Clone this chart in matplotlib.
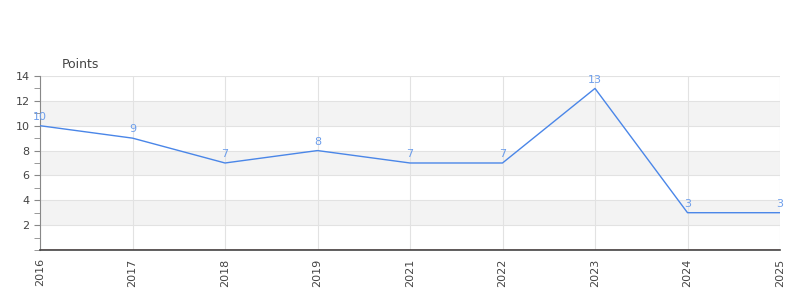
import numpy as np
import matplotlib.pyplot as plt
from matplotlib.ticker import MultipleLocator

years = ['2016', '2017', '2018', '2019', '2021', '2022', '2023', '2024', '2025']
points = [10, 9, 7, 8, 7, 7, 13, 3, 3]
band_ranges = [(2, 4), (6, 8), (10, 12)]
ytick_values = [2, 4, 6, 8, 10, 12, 14]

LINE = '#4a86e8'
LABEL = '#6d9eeb'
GRID = '#e2e2e2'
TEXT = '#444444'

fig = plt.figure(figsize=(8, 3), dpi=100)
ax = fig.add_axes([0.05, 0.1667, 0.925, 0.58])

x = np.arange(len(years))
for lo, hi in band_ranges:
    ax.axhspan(lo, hi, color='#f3f3f3', zorder=0, lw=0)

ax.plot(x, points, color=LINE, lw=1, zorder=3)
for xi, v in zip(x, points):
    ax.text(xi, v + 0.3, str(v), color=LABEL, fontsize=8, ha='center', va='bottom', zorder=4)

ax.axhline(0, color='#cc0000', lw=1, zorder=2)

ax.set_xlim(0, len(years) - 1)
ax.set_ylim(0, 14)
ax.set_xticks(x)
ax.set_xticklabels(years, rotation=90, fontsize=8, color=TEXT)
ax.set_yticks(ytick_values)
ax.set_yticklabels([str(v) for v in ytick_values], fontsize=8, color=TEXT)
ax.yaxis.set_minor_locator(MultipleLocator(1))
ax.tick_params(axis='y', which='both', color='#888888', length=4)
ax.tick_params(axis='x', length=0, pad=6)

ax.grid(True, color=GRID, lw=0.8, zorder=1)
ax.set_axisbelow(True)
for s in ['top', 'right']:
    ax.spines[s].set_visible(False)
ax.spines['left'].set_color('#888888')
ax.spines['bottom'].set_color('#444444')
ax.spines['bottom'].set_linewidth(1.2)
ax.spines['left'].set_linewidth(0.8)

ax.text(0.03, 1.03, 'Points', transform=ax.transAxes, fontsize=9, color=TEXT, ha='left', va='bottom')

fig.savefig('out.png', dpi=100)
